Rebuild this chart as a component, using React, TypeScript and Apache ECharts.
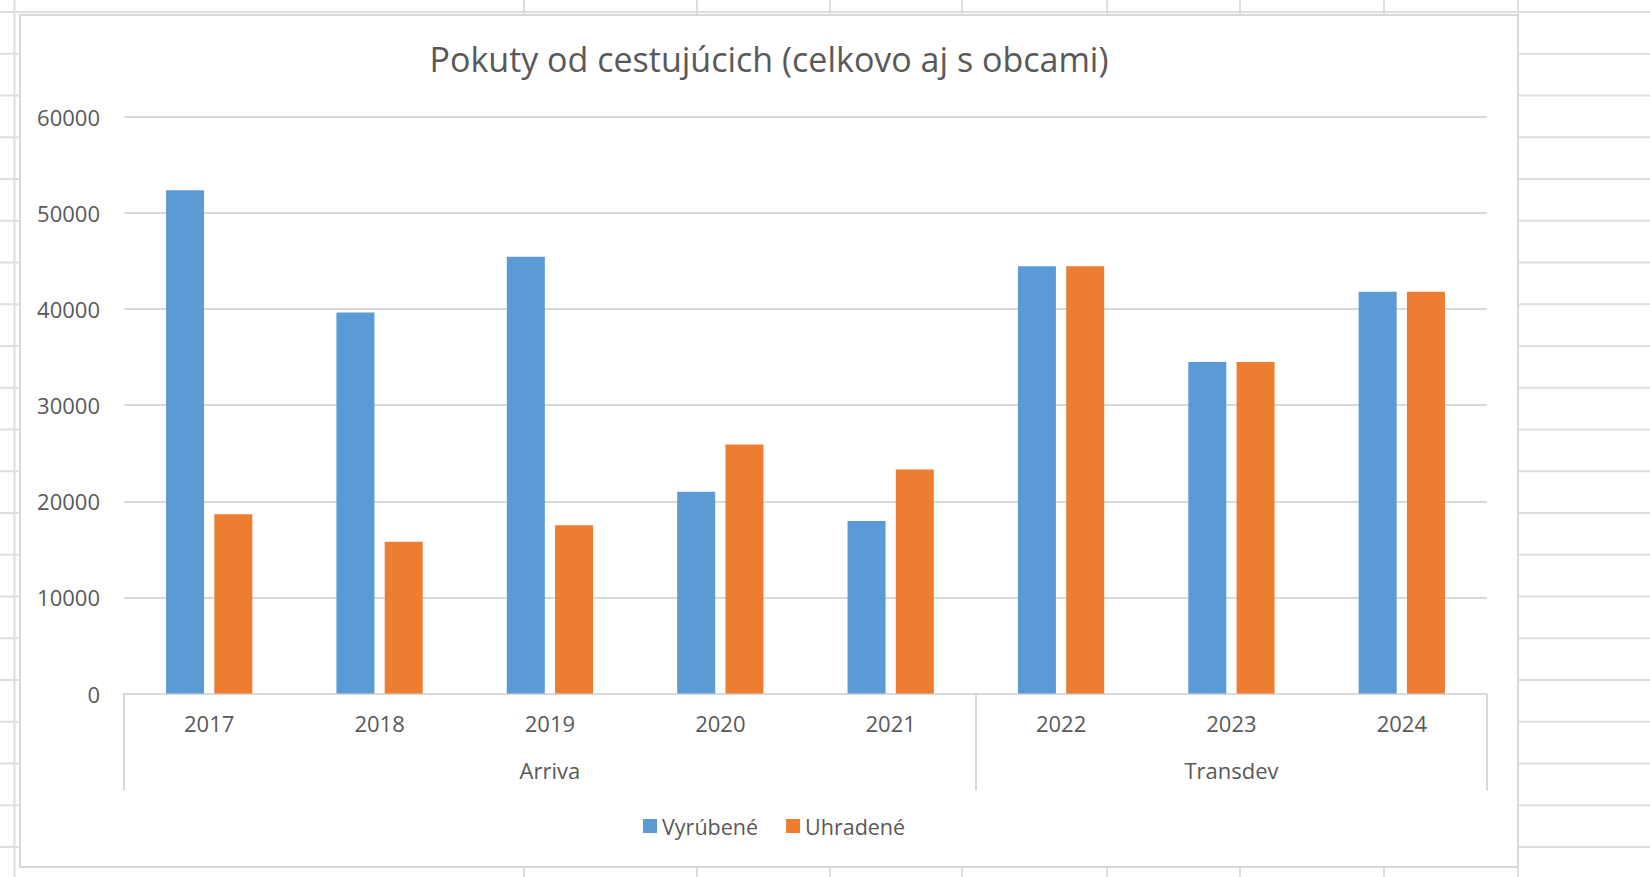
import React, { useEffect, useRef } from "react";
import * as echarts from "echarts";

const titleText = "Pokuty od cestujúcich (celkovo aj s obcami)";
const years = ["2017", "2018", "2019", "2020", "2021", "2022", "2023", "2024"];
const groupNames = ["Arriva", "Transdev"];
const groupSizes = [5, 3];
const seriesNames = ["Vyrúbené", "Uhradené"];
const vyrubene = [52350, 39650, 45450, 21000, 17950, 44450, 34500, 41800];
const uhradene = [18650, 15800, 17500, 25900, 23300, 44450, 34500, 41800];
const yTicks = { min: 0, max: 60000, interval: 10000 };

const FONT = "'Open Sans', 'Noto Sans', sans-serif";
const TEXT = "#595959";
const LINE = "#d9d9d9";

// spreadsheet background grid (decoration)
const sheetRowStart = 12;
const sheetRowStep = 41.75;
const sheetRowCount = 21;
const sheetCols = [14.5, 524, 697, 830, 962, 1107, 1240, 1384, 1518];

export default function App() {
  const ref = useRef<HTMLDivElement>(null);
  useEffect(() => {
    if (!ref.current) return;
    const chart = echarts.init(ref.current, null, { renderer: "svg" });

    // group boundaries and label positions from group sizes
    const groupStarts: number[] = [];
    const groupLabelAt: Record<number, string> = {};
    let acc = 0;
    groupSizes.forEach((s, gi) => {
      groupStarts.push(acc);
      groupLabelAt[acc + Math.floor(s / 2)] = groupNames[gi];
      acc += s;
    });

    const sheet: any[] = [];
    for (let k = 0; k < sheetRowCount; k++) {
      const y = sheetRowStart + k * sheetRowStep;
      sheet.push({
        type: "line",
        z: -100,
        shape: { x1: 0, y1: y, x2: 1650, y2: y },
        style: { stroke: "#dedede", lineWidth: 2 },
        silent: true,
      });
    }
    sheetCols.forEach((x) => {
      sheet.push({
        type: "line",
        z: -100,
        shape: { x1: x, y1: 0, x2: x, y2: 877 },
        style: { stroke: "#dedede", lineWidth: 2 },
        silent: true,
      });
    });
    sheet.push({
      type: "rect",
      z: -50,
      shape: { x: 20, y: 15, width: 1498, height: 852 },
      style: { fill: "#ffffff", stroke: "#d9d9d9", lineWidth: 2 },
      silent: true,
    });

    chart.setOption({
      animation: false,
      backgroundColor: "#ffffff",
      graphic: sheet,
      title: {
        text: titleText,
        left: 764,
        top: 37,
        textAlign: "center",
        textStyle: { fontFamily: FONT, fontSize: 34, fontWeight: "normal", color: TEXT },
      },
      legend: {
        data: seriesNames,
        left: 638,
        top: 810,
        icon: "rect",
        itemWidth: 14,
        itemHeight: 14,
        itemGap: 28,
        textStyle: { fontFamily: FONT, fontSize: 21.5, color: TEXT },
      },
      grid: { left: 124, right: 163, top: 116.8, bottom: 183.5, containLabel: false },
      xAxis: [
        {
          type: "category",
          data: years,
          position: "bottom",
          axisLine: { show: true, lineStyle: { color: LINE, width: 2 } },
          axisTick: { show: false },
          axisLabel: { fontFamily: FONT, fontSize: 22, color: TEXT, margin: 18, interval: 0 },
        },
        {
          type: "category",
          data: years,
          position: "bottom",
          axisLine: { show: false },
          axisTick: {
            show: true,
            length: 97,
            interval: (i: number) => groupStarts.includes(i),
            lineStyle: { color: LINE, width: 2 },
          },
          axisLabel: {
            interval: 0,
            fontFamily: FONT,
            fontSize: 22,
            color: TEXT,
            margin: 65,
            formatter: (_v: string, i: number) => groupLabelAt[i] ?? "",
          },
          splitLine: { show: false },
        },
      ],
      yAxis: {
        type: "value",
        min: yTicks.min,
        max: yTicks.max,
        interval: yTicks.interval,
        axisLine: { show: false },
        axisTick: { show: false },
        axisLabel: {
          fontFamily: FONT,
          fontSize: 22,
          color: TEXT,
          margin: 24,
          formatter: (v: number) => String(v),
        },
        splitLine: { lineStyle: { color: LINE, width: 2 } },
      },
      series: [
        {
          name: seriesNames[0],
          type: "bar",
          data: vyrubene,
          barWidth: 38,
          barGap: "27%",
          itemStyle: { color: "#5B9BD5" },
        },
        {
          name: seriesNames[1],
          type: "bar",
          data: uhradene,
          barWidth: 38,
          barGap: "27%",
          itemStyle: { color: "#ED7D31" },
        },
      ],
    });
    return () => chart.dispose();
  }, []);
  return (
    <div
      ref={ref}
      style={{ position: "absolute", left: 0, top: 0, width: 1650, height: 877 }}
    />
  );
}
